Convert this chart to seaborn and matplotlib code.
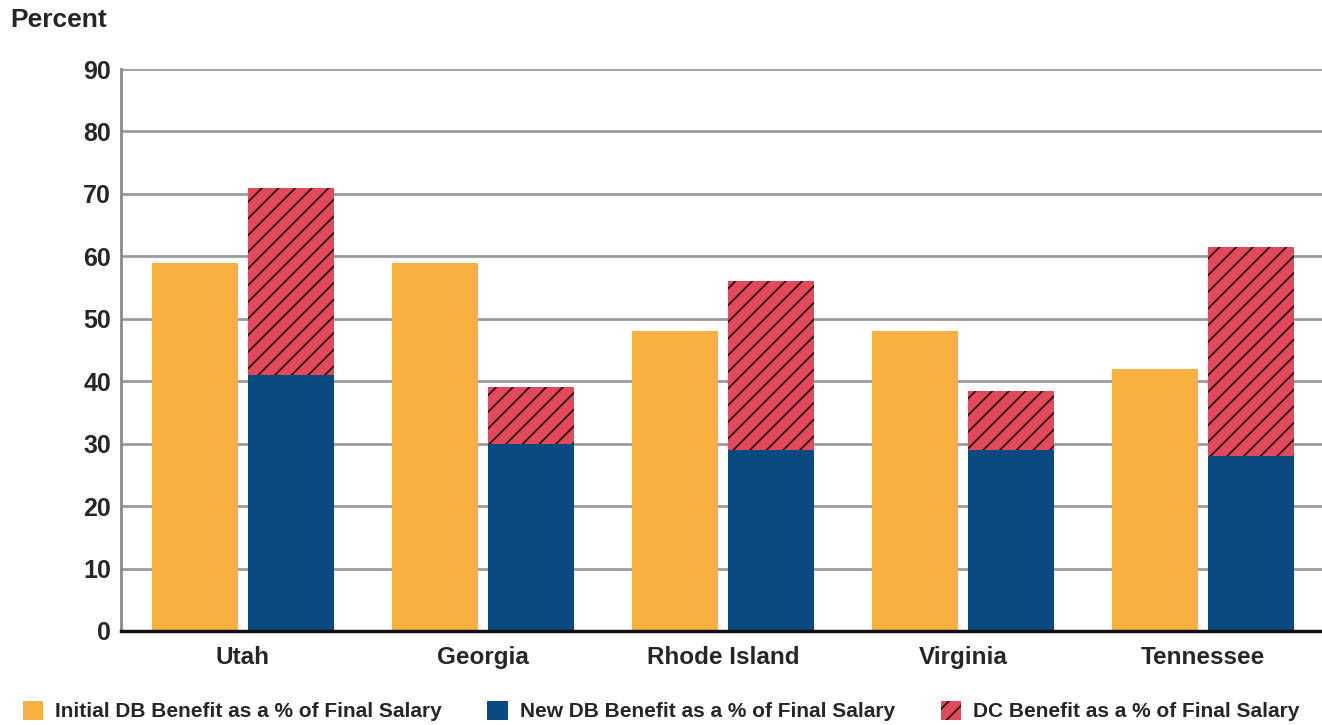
import matplotlib
matplotlib.use("Agg")
import matplotlib.pyplot as plt
from matplotlib.patches import Patch
import numpy as np
import pandas as pd
import seaborn as sns

states = ['Utah', 'Georgia', 'Rhode Island', 'Virginia', 'Tennessee']
initialDb = [59, 59, 48, 48, 42]
newDb = [41, 30, 29, 29, 28]
dcBenefit = [30, 9, 27, 9.5, 33.5]

seriesNames = [
    'Initial DB Benefit as a % of Final Salary',
    'New DB Benefit as a % of Final Salary',
    'DC Benefit as a % of Final Salary',
]
orange = '#F8B03E'
blue = '#0B4A80'
red = '#E2495A'

sns.set_style('white')
plt.rcParams['font.family'] = ['Liberation Sans', 'DejaVu Sans']
plt.rcParams['font.weight'] = 'bold'
plt.rcParams['hatch.linewidth'] = 1.3
plt.rcParams['hatch.color'] = '#2a1015'

dbDf = pd.DataFrame({
    'state': states * 2,
    'series': [seriesNames[0]] * len(states) + [seriesNames[1]] * len(states),
    'value': initialDb + newDb,
})

fig = plt.figure(figsize=(13.22, 7.25), dpi=100)
ax = fig.add_axes([0.0915, 0.1297, 0.9085, 0.7751])

sns.barplot(data=dbDf, x='state', y='value', hue='series', order=states,
            hue_order=seriesNames[:2], palette=[orange, blue],
            width=0.8, gap=0.1, saturation=1, legend=False, linewidth=0,
            ax=ax, zorder=3)

# DC part stacked on top of the new DB bars
xPos = np.arange(len(states)) + 0.2
ax.bar(xPos, dcBenefit, bottom=newDb, width=0.36, color=red,
       hatch='//', edgecolor='#2a1015', linewidth=0, zorder=3)

ax.set_xlim(-0.508, 4.496)
ax.set_ylim(0, 90)
ax.set_yticks(range(0, 91, 10))
ax.yaxis.grid(True, color='#9a9a9a', linewidth=2, zorder=0)
ax.set_axisbelow(True)
ax.tick_params(axis='y', length=0, pad=7, labelsize=18)
ax.tick_params(axis='x', length=0, pad=11, labelsize=17.5)
ax.set_xlabel('')
ax.set_ylabel('')
for lbl in ax.get_xticklabels() + ax.get_yticklabels():
    lbl.set_fontweight('bold')

for side in ['top', 'right']:
    ax.spines[side].set_visible(False)
ax.spines['left'].set_color('#8a8a8a')
ax.spines['left'].set_linewidth(2)
ax.spines['bottom'].set_color('#111111')
ax.spines['bottom'].set_linewidth(2.5)
ax.spines['bottom'].set_zorder(4)

fig.text(0.0075, 0.972, 'Percent', fontsize=19, fontweight='bold', va='center', ha='left')

handles = [
    Patch(facecolor=orange, edgecolor='none'),
    Patch(facecolor=blue, edgecolor='none'),
    Patch(facecolor=red, edgecolor='#2a1015', hatch='//', linewidth=0),
]
fig.legend(handles, seriesNames, ncol=3, loc='center left',
           bbox_to_anchor=(0.006, 0.019), frameon=False,
           handlelength=1.0, handleheight=1.0, handletextpad=0.55,
           columnspacing=2.2, borderpad=0.2, prop={'weight': 'bold', 'size': 15})

fig.savefig('out.png', dpi=100)
